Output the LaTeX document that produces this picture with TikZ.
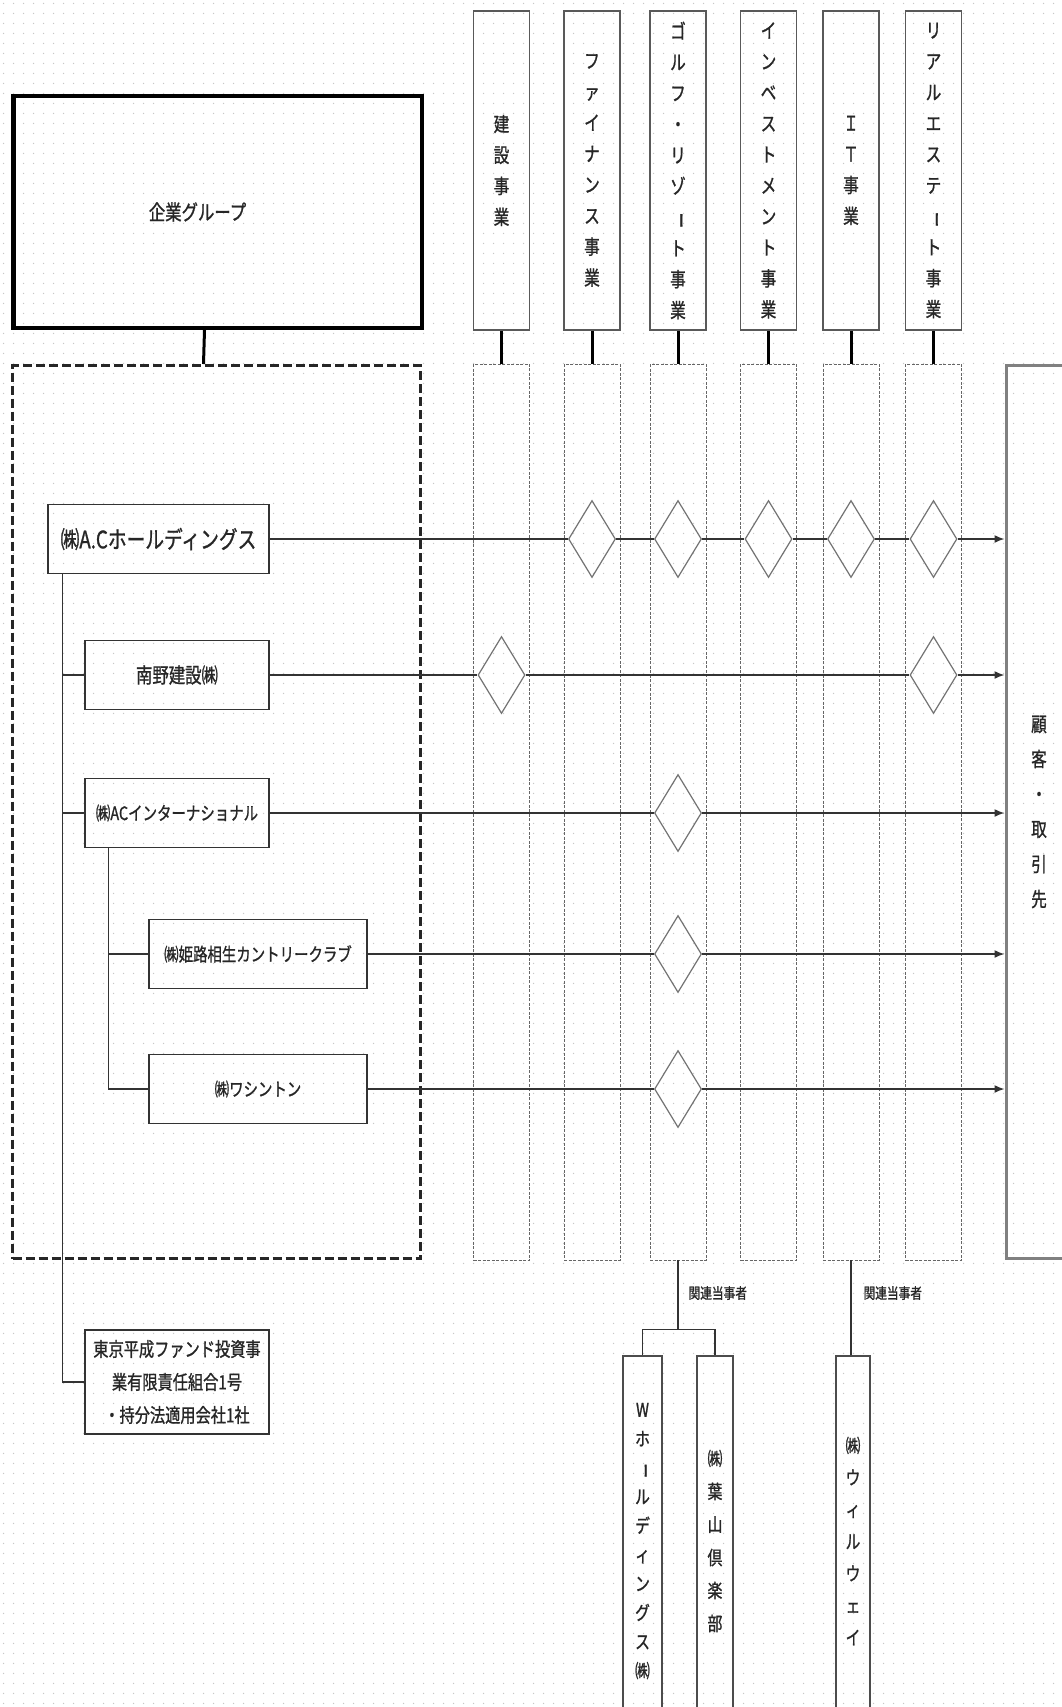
\documentclass[tikz,border=0pt]{standalone}
\usepackage{fontspec}
\usepackage{graphicx}
\usetikzlibrary{arrows.meta, shapes.geometric, patterns.meta, positioning, calc}
\newfontfamily\jp[FakeStretch=0.78, FakeBold=1]{Noto Sans CJK JP}
\newcommand{\chouon}{\rotatebox[origin=c]{-90}{ー}}
\tikzdeclarepattern{
  name=paperdots, type=uncolored,
  bounding box={(0pt,0pt) and (10pt,10pt)},
  tile size={(10pt,10pt)},
  code={\fill (5pt,5pt) circle (0.8pt);}
}

\begin{document}
\begin{tikzpicture}[x=1pt, y=-1pt, >={Latex[length=10pt,width=8pt]},
    firm/.style={draw=black!80, line width=1.5pt, inner sep=0pt, minimum height=69pt,
                 text=black!85, font=\jp\fontsize{18.5}{22}\selectfont},
    head/.style={draw=black!65, line width=1.5pt, minimum width=56pt, minimum height=319pt,
                 inner sep=0pt, align=center, text=black!85, font=\jp\fontsize{20}{31}\selectfont},
    lane/.style={draw=black!60, line width=0.9pt, dash pattern=on 3pt off 1.5pt,
                 minimum width=56pt, minimum height=896pt, inner sep=0pt},
    joint/.style={diamond, draw=black!55, line width=1.2pt, minimum width=47pt,
                  minimum height=77pt, inner sep=0pt},
    link/.style={draw=black!80, line width=1.5pt},
    stub/.style={line width=3pt},
    relbox/.style={draw=black!70, line width=1.5pt, minimum height=370pt, inner sep=0pt,
                   align=center, text=black!85, font=\jp\fontsize{19}{29}\selectfont},
    note/.style={anchor=west, text=black!85, font=\jp\fontsize{15}{18}\selectfont}]
  % paper
  \path[use as bounding box] (0,0) rectangle (1062,1707);
  \clip (0,0) rectangle (1062,1707);
  \fill[white] (0,0) rectangle (1062,1707);
  \fill[pattern=paperdots, pattern color=black!22] (0,0) rectangle (1062,1707);
  % group and its frame
  \node[draw, line width=4.5pt, minimum width=408.5pt, minimum height=231.5pt, text=black!85,
        font=\jp\fontsize{21}{25}\selectfont] (group) at (217.5,212) {\hspace*{-40pt}企業グループ};
  \node[draw=black!85, line width=3pt, dash pattern=on 9pt off 4pt, minimum width=408pt,
        minimum height=893pt, inner sep=0pt] (grpframe) at (216.5,812) {};
  \draw[stub] ([xshift=-13pt]group.south) -- ([xshift=-13pt]grpframe.north);
  % companies
  \node[firm, minimum width=221pt, font=\jp\fontsize{24}{28}\selectfont] (hold) at (158.5,539) {㈱A.Cホールディングス};
  \node[firm, minimum width=184pt, font=\jp\fontsize{21}{25}\selectfont] (nanno) at (177,675) {南野建設㈱};
  \node[firm, minimum width=184pt] (intl) at (177,813) {㈱ACインターナショナル};
  \node[firm, minimum width=218pt] (himeji) at (258,954) {㈱姫路相生カントリークラブ};
  \node[firm, minimum width=218pt] (wash) at (258,1089) {㈱ワシントン};
  \node[firm, minimum width=184pt, minimum height=104pt, align=center,
        font=\jp\fontsize{19.5}{33}\selectfont] (tokyo) at (177,1382)
        {東京平成ファンド投資事\\業有限責任組合1号\\・持分法適用会社1社};
  \draw[link] ([xshift=15pt]hold.south west) coordinate (trunk) |- (tokyo.west);
  \draw[link] (trunk |- nanno.west) -- (nanno.west);
  \draw[link] (trunk |- intl.west) -- (intl.west);
  \draw[link] ([xshift=24pt]intl.south west) coordinate (subtrunk) |- (wash.west);
  \draw[link] (subtrunk |- himeji.west) -- (himeji.west);
  % business columns
  \foreach \i/\x/\txt in {1/501.5/{建\\設\\事\\業},
      2/592/{フ\\ァ\\イ\\ナ\\ン\\ス\\事\\業},
      3/678/{ゴ\\ル\\フ\\・\\リ\\ゾ\\\chouon\\ト\\事\\業},
      4/768.5/{イ\\ン\\ベ\\ス\\ト\\メ\\ン\\ト\\事\\業},
      5/851/{Ｉ\\Ｔ\\事\\業},
      6/933.5/{リ\\ア\\ル\\エ\\ス\\テ\\\chouon\\ト\\事\\業}} {
    \node[head] (head\i) at (\x,170.5) {\txt};
    \node[lane] (lane\i) at (\x,812) {};
    \draw[stub] (head\i) -- (lane\i);
  }
  % customers
  \node[draw=black!50, line width=3pt, minimum width=66pt, minimum height=893pt, inner sep=0pt,
        align=center, text=black!85, font=\jp\fontsize{20}{35}\selectfont] (cust) at (1039,812)
        {顧\\客\\・\\取\\引\\先};
  % flows
  \foreach \i in {2,...,6}
    \node[joint] (dh\i) at (lane\i |- hold) {};
  \draw[link] (hold) -- (dh2) -- (dh3) -- (dh4) -- (dh5) -- (dh6);
  \draw[link, ->] (dh6) -- (dh6 -| cust.west);
  \node[joint] (dn1) at (lane1 |- nanno) {};
  \node[joint] (dn6) at (lane6 |- nanno) {};
  \draw[link] (nanno) -- (dn1) -- (dn6);
  \draw[link, ->] (dn6) -- (dn6 -| cust.west);
  \foreach \co in {intl, himeji, wash} {
    \node[joint] (d\co) at (lane3 |- \co) {};
    \draw[link] (\co) -- (d\co);
    \draw[link, ->] (d\co) -- (d\co -| cust.west);
  }
  % related parties
  \node[relbox, minimum width=39pt] (whold) at (642.5,1541)
        {W\\ホ\\\chouon\\ル\\デ\\ィ\\ン\\グ\\ス\\㈱};
  \node[relbox, minimum width=36pt, font=\jp\fontsize{19}{33}\selectfont] (hayama) at (715,1541)
        {㈱\\葉\\山\\倶\\楽\\部};
  \node[relbox, minimum width=34pt, font=\jp\fontsize{19}{32}\selectfont] (willway) at (853,1541)
        {㈱\\ウ\\ィ\\ル\\ウ\\ェ\\イ};
  \draw[link] (lane3.south) -- ++(0,69) coordinate (fork);
  \draw[link] (whold.north) |- (fork) -| (hayama.north);
  \draw[link] (lane5.south) -- (lane5.south |- willway.north);
  \node[note] (rel3) at (685,1293) {関連当事者};
  \node[note] (rel5) at (860,1293) {関連当事者};
\end{tikzpicture}
\end{document}
